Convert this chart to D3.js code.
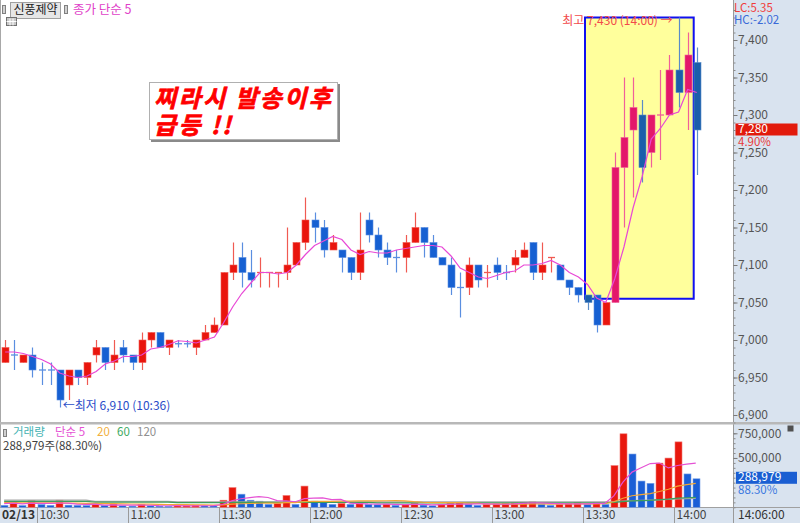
<!DOCTYPE html>
<html><head><meta charset="utf-8">
<script src="https://cdn.jsdelivr.net/npm/d3@7"></script>
<style>
body{margin:0;background:#fff;}
svg{display:block;font-family:"Noto Sans CJK KR","Noto Sans",sans-serif;}
</style></head><body>
<svg id="c" width="800" height="523"></svg>
<script>
// ---------- DATA (3-minute candles, 02/13) ----------
const times=["10:18","10:21","10:24","10:27","10:30","10:33","10:36","10:39","10:42","10:45",
"10:48","10:51","10:54","10:57","11:00","11:03","11:06","11:09","11:12","11:15",
"11:18","11:21","11:24","11:27","11:30","11:33","11:36","11:39","11:42","11:45",
"11:48","11:51","11:54","11:57","12:00","12:03","12:06","12:09","12:12","12:15",
"12:18","12:21","12:24","12:27","12:30","12:33","12:36","12:39","12:42","12:45",
"12:48","12:51","12:54","12:57","13:00","13:03","13:06","13:09","13:12","13:15",
"13:18","13:21","13:24","13:27","13:30","13:33","13:36","13:39","13:42","13:45",
"13:48","13:51","13:54","13:57","14:00","14:03","14:06"];
const opens=[6970,6980,6970,6980,6960,6960,6960,6940,6960,6950,
6980,6990,6970,6990,6980,6970,7000,7010,6990,6995,
6995,6990,7000,7010,7020,7090,7110,7090,7090,7090,
7090,7090,7100,7130,7160,7150,7120,7120,7110,7090,
7160,7140,7120,7110,7110,7130,7150,7130,7110,7100,
7070,7070,7100,7090,7100,7090,7100,7110,7130,7090,
7110,7100,7080,7070,7060,7060,7020,7050,7230,7280,
7300,7250,7300,7300,7360,7330,7370];
const highs=[7000,7000,6980,6990,6970,6970,6960,6960,6960,6970,
7000,6990,7000,7000,6980,7010,7010,7010,7000,7000,
7000,7000,7020,7030,7090,7130,7130,7120,7110,7090,
7090,7150,7130,7190,7170,7160,7140,7120,7110,7170,
7170,7150,7130,7120,7140,7170,7150,7140,7110,7110,
7090,7110,7100,7100,7110,7100,7120,7130,7130,7130,
7110,7100,7080,7070,7060,7060,7050,7250,7350,7350,
7320,7300,7360,7380,7430,7410,7390];
const lows=[6970,6960,6970,6950,6940,6940,6910,6920,6940,6940,
6970,6960,6960,6970,6960,6960,6990,6990,6980,6990,
6990,6980,7000,7010,7020,7080,7070,7070,7070,7070,
7070,7080,7100,7120,7130,7110,7120,7090,7080,7080,
7130,7110,7100,7090,7090,7130,7110,7110,7100,7060,
7030,7060,7070,7070,7080,7080,7090,7110,7080,7080,
7090,7080,7060,7050,7040,7010,7020,7050,7150,7190,
7210,7230,7240,7300,7310,7280,7220];
const closes=[6990,6980,6980,6960,6960,6960,6920,6960,6950,6970,
6990,6970,6980,6980,6970,7000,7010,6990,7000,6995,
6995,7000,7010,7020,7090,7100,7090,7080,7090,7090,
7090,7100,7130,7160,7150,7120,7130,7110,7090,7120,
7140,7120,7110,7110,7130,7150,7130,7110,7100,7070,
7070,7100,7080,7090,7090,7090,7110,7120,7090,7100,
7110,7080,7070,7060,7050,7020,7050,7230,7270,7310,
7230,7300,7300,7360,7330,7380,7280];
const volumes=[20000,60000,18000,70000,28000,20000,72000,22000,20000,18000,
30000,20000,32000,15000,12000,30000,15000,12000,10000,15000,
17000,22000,15000,14000,72000,200000,133000,72000,62000,30000,
40000,120000,30000,215000,62000,50000,30000,40000,30000,40000,
30000,25000,32000,20000,30000,40000,22000,15000,30000,40000,
50000,30000,20000,30000,35000,40000,45000,50000,55000,30000,
20000,30000,40000,50000,30000,45000,30000,423000,745000,540000,
266000,243000,448000,499000,663000,338000,288979];
// estimated closes / volumes just before the visible window (for moving averages)
const priorCloses=[6980,6990,6980,6980];
const priorVolumes=[60000,45000,55000,40000,50000,65000,45000,40000,55000,50000,
45000,60000,40000,50000,45000,40000,50000,35000,45000];
// volume MA60 / MA120
const volMa60=[60000,60000,60000,60000,60000,60000,60000,60000,60000,60000,
52000,52000,52000,52000,52000,52000,52000,52000,52000,47000,
47000,47000,47000,47000,47000,50000,50000,50000,50000,50000,
50000,50000,50000,50000,50000,50000,50000,50000,50000,50000,
50000,45000,45000,45000,45000,45000,45000,45000,45000,45000,
45000,45000,45000,45000,45000,45000,45000,45000,45000,45000,
45000,45000,45000,45000,45000,45000,45000,50000,58000,65000,
68000,71000,77000,83000,92000,97000,101000];
const volMa120=[72000,72000,72000,72000,72000,72000,72000,72000,72000,72000,
60000,60000,60000,60000,60000,60000,60000,60000,60000,55000,
55000,55000,55000,55000,55000,55000,55000,55000,55000,55000,
55000,55000,55000,55000,55000,55000,55000,55000,55000,55000,
55000,55000,55000,55000,55000,55000,55000,55000,55000,55000,
55000,55000,55000,55000,55000,55000,55000,55000,55000,55000,
55000,55000,55000,55000,55000,55000,55000,58000,64000,68000,
70000,72000,76000,80000,85000,88000,90000];
const priceTicks=[6900,6950,7000,7050,7100,7150,7200,7250,7300,7350,7400];
const volTicks=[500000,750000];
const timeTicks=["10:30","11:00","11:30","12:00","12:30","13:00","13:30","14:00"];
const highlight={from:"13:30",to:"14:06",top:7430,bottom:7055};
const peak={label:"최고 7,430 (14:00) →",index:74};
const trough={label:"←최저 6,910 (10:36)",index:6};
const memo=["찌라시 발송이후","급등 !!"];
const lastPrice=7280, lastPct="4.90%", lastVol=288979, lastVolPct="88.30%";

// ---------- SETUP ----------
const svg=d3.select("#c");
const FONT='"Noto Sans CJK KR","Noto Sans",sans-serif';
const toMin=s=>(+s.slice(0,2))*60+(+s.slice(3));
const x=d3.scaleLinear().domain([toMin("10:30"),toMin("14:00")]).range([37,674]);
const slot=x(3)-x(0);
const cx=i=>x(toMin(times[i]))+slot/2;
const y=d3.scaleLinear().domain([6900,7400]).range([415,40]);
const vy=d3.scaleLinear().domain([0,750000]).range([507.3,433.3]);
const AXBG="#d9e3ef";

// backgrounds
svg.append("rect").attr("x",0).attr("y",0).attr("width",800).attr("height",523).attr("fill","#fff");
svg.append("rect").attr("x",733).attr("y",0).attr("width",67).attr("height",523).attr("fill",AXBG);
svg.append("rect").attr("x",0).attr("y",507).attr("width",800).attr("height",16).attr("fill",AXBG);
svg.append("line").attr("x1",0.5).attr("x2",0.5).attr("y1",0).attr("y2",507).attr("stroke","#a8a8a8");
svg.append("line").attr("x1",733.5).attr("x2",733.5).attr("y1",0).attr("y2",523).attr("stroke","#9a9a9a");
svg.append("rect").attr("x",0).attr("y",422).attr("width",800).attr("height",2.5).attr("fill","#b8b8b8");
svg.append("line").attr("x1",0).attr("x2",800).attr("y1",507.5).attr("y2",507.5).attr("stroke","#a0a0a0");

// ---------- HIGHLIGHT BOX ----------
const bx0=x(toMin(highlight.from))+2, bx1=x(toMin(highlight.to))+1.5;
const by0=y(highlight.top), by1=y(highlight.bottom);
svg.append("rect").attr("x",bx0).attr("y",by0).attr("width",bx1-bx0).attr("height",by1-by0)
  .attr("fill","#ffff9c");
svg.append("rect").attr("x",bx0).attr("y",by0).attr("width",bx1-bx0).attr("height",by1-by0)
  .attr("fill","none").attr("stroke","#1010f0").attr("stroke-width",2);

// ---------- CANDLES ----------
const dirs=[];
closes.forEach((c,i)=>{
  const o=opens[i];
  const pc=i===0?priorCloses[priorCloses.length-1]:closes[i-1];
  let d;
  if(c>o) d=1; else if(c<o) d=-1;
  else if(c>pc) d=1; else if(c<pc) d=-1; else d=i===0?1:dirs[i-1];
  dirs.push(d);
});
const inBox=i=>{const mx=cx(i), my=y((opens[i]+closes[i])/2);return mx>=bx0&&mx<=bx1+4&&my>=by0&&my<=by1;};
const col=i=>{
  if(inBox(i)) return dirs[i]>0?{b:"#e3186a",w:"#f0609a"}:{b:"#1b5eaa",w:"#5a8cc8"};
  return dirs[i]>0?{b:"#e9150d",w:"#f05a52"}:{b:"#1660d2",w:"#5a8ee0"};
};
const BW=7;
const cg=svg.append("g");
times.forEach((t,i)=>{
  const c=col(i), xc=Math.round(cx(i))+0.5;
  cg.append("line").attr("x1",xc).attr("x2",xc).attr("y1",y(highs[i])).attr("y2",y(lows[i]))
    .attr("stroke",c.w).attr("stroke-width",1.2);
  const top=y(Math.max(opens[i],closes[i])), bot=y(Math.min(opens[i],closes[i]));
  if(bot-top<1.2){
    cg.append("line").attr("x1",xc-BW/2).attr("x2",xc+BW/2).attr("y1",top).attr("y2",top)
      .attr("stroke",c.w).attr("stroke-width",1.3);
  } else {
    cg.append("rect").attr("x",xc-BW/2).attr("y",top).attr("width",BW).attr("height",bot-top)
      .attr("fill",c.b).attr("stroke",c.w).attr("stroke-width",0.6);
  }
});

// price MA5
const cExt=priorCloses.concat(closes);
const ma5=closes.map((c,i)=>d3.mean(cExt.slice(i,i+5)));
svg.append("path").datum(ma5).attr("fill","none").attr("stroke","#e848d6").attr("stroke-width",1.2)
  .attr("d",d3.line().x((d,i)=>cx(i)).y(d=>y(d)));

// ---------- ANNOTATIONS ----------
svg.append("text").attr("x",cx(peak.index)-6).attr("y",y(highs[peak.index])+4).attr("text-anchor","end")
  .attr("dominant-baseline","middle").attr("font-size",12).attr("fill","#f24a4a").text(peak.label);
svg.append("text").attr("x",cx(trough.index)+3).attr("y",y(lows[trough.index])-1).attr("dominant-baseline","middle")
  .attr("font-size",12).attr("fill","#2a4cc8").text(trough.label);
// memo box
svg.append("rect").attr("x",151).attr("y",84).attr("width",189).attr("height",58).attr("fill","#8a8a8a");
svg.append("rect").attr("x",149.5).attr("y",82.5).attr("width",188).attr("height",57).attr("fill","#fff").attr("stroke","#b0b0b0");
memo.forEach((m,k)=>{
  svg.append("text").attr("x",154).attr("y",107+k*27).attr("font-size",24).attr("font-weight","bold")
    .attr("font-style","italic").attr("letter-spacing",2.4).attr("fill","#ff0000")
    .attr("stroke","#ff0000").attr("stroke-width",0.7).text(m);
});

// ---------- PRICE AXIS ----------
const minor=svg.append("g").attr("transform","translate(733.5,0)")
  .call(d3.axisRight(y).tickValues(d3.range(6890,7450,10)).tickSize(2).tickFormat(""));
minor.select(".domain").remove();
minor.selectAll("line").attr("stroke","#8a8a8a");
const pax=svg.append("g").attr("transform","translate(733.5,0)")
  .call(d3.axisRight(y).tickValues(priceTicks).tickSize(4).tickFormat(d3.format(",")));
pax.select(".domain").remove();
pax.selectAll("line").attr("stroke","#7a7a7a");
pax.selectAll("text").attr("x",4.5).attr("font-size",12).attr("font-family",FONT).attr("fill","#555");
// top-right info
svg.append("text").attr("x",734).attr("y",9).attr("dominant-baseline","middle").attr("font-size",11.5).attr("fill","#f03c3c").text("LC:5.35");
svg.append("text").attr("x",734).attr("y",21).attr("dominant-baseline","middle").attr("font-size",11.5).attr("fill","#3a6ad8").text("HC:-2.02");
// last price marker
svg.append("rect").attr("x",735.5).attr("y",y(lastPrice)-6.5).attr("width",62).attr("height",12).attr("fill","#e21a0c");
svg.append("text").attr("x",738).attr("y",y(lastPrice)-0.5).attr("dominant-baseline","middle").attr("font-size",12).attr("fill","#fff").text(d3.format(",")(lastPrice));
svg.append("text").attr("x",738).attr("y",y(lastPrice)+12.5).attr("dominant-baseline","middle").attr("font-size",11.5).attr("fill","#e83a3a").text(lastPct);

// ---------- HEADER ----------
svg.append("rect").attr("x",2.5).attr("y",5.5).attr("width",3).attr("height",8).attr("fill","#d0d0d0").attr("stroke","#808080");
svg.append("rect").attr("x",10.5).attr("y",2.5).attr("width",50).attr("height",16).attr("fill","#e6e6e6").attr("stroke","#a0a0a0");
svg.append("text").attr("x",35.5).attr("y",11).attr("text-anchor","middle").attr("dominant-baseline","middle").attr("font-size",12).attr("fill","#222").text("신풍제약");
svg.append("rect").attr("x",64.5).attr("y",5.5).attr("width",3).attr("height",8).attr("fill","#d0d0d0").attr("stroke","#808080");
svg.append("text").attr("x",73).attr("y",11).attr("dominant-baseline","middle").attr("font-size",12.5).attr("fill","#e040c8").text("종가 단순 5");
const gi=svg.append("g").attr("transform","translate(6.5,17.5)");
gi.append("rect").attr("width",10).attr("height",8).attr("fill","#c8c8c8").attr("stroke","#707070");
gi.append("line").attr("x1",0).attr("x2",10).attr("y1",4).attr("y2",4).attr("stroke","#fff");
gi.append("line").attr("x1",3.5).attr("x2",3.5).attr("y1",1).attr("y2",8).attr("stroke","#fff");
gi.append("line").attr("x1",6.5).attr("x2",6.5).attr("y1",1).attr("y2",8).attr("stroke","#fff");

// ---------- VOLUME ----------
const vdirs=[];
volumes.forEach((v,i)=>{
  const pv=i===0?priorVolumes[priorVolumes.length-1]:volumes[i-1];
  vdirs.push(v>pv?1:v<pv?-1:(i?vdirs[i-1]:1));
});
const vg=svg.append("g");
volumes.forEach((v,i)=>{
  const xc=Math.round(cx(i))+0.5;
  vg.append("rect").attr("x",xc-BW/2-1).attr("y",vy(v)).attr("width",BW).attr("height",vy(0)-vy(v))
    .attr("fill",vdirs[i]>0?"#e8180e":"#1a5ed6").attr("stroke",vdirs[i]>0?"#f27a74":"#7aa0e6").attr("stroke-width",0.6);
});
const vExt=priorVolumes.concat(volumes);
const vma=n=>volumes.map((v,i)=>d3.mean(vExt.slice(i+19-(n-1),i+20)));
const vline=d3.line().x((d,i)=>cx(i)-1).y(d=>vy(d));
[[volMa120,"#a6a6a6"],[volMa60,"#3e9e5c"],[vma(20),"#f2a634"],[vma(5),"#e552d4"]].forEach(([arr,c])=>{
  svg.append("path").datum(arr).attr("fill","none").attr("stroke",c).attr("stroke-width",1.2).attr("d",vline);
});
// volume header
svg.append("rect").attr("x",3.5).attr("y",429.5).attr("width",3).attr("height",7).attr("fill","#d0d0d0").attr("stroke","#808080");
const vh=[["거래량",13,"#45b3b3"],["단순 5",55,"#e552d4"],["20",97,"#f2b040"],["60",117,"#3eaa62"],["120",137,"#909090"]];
vh.forEach(([t,xx,c])=>svg.append("text").attr("x",xx).attr("y",433).attr("dominant-baseline","middle").attr("font-size",11.5).attr("fill",c).text(t));
svg.append("text").attr("x",3).attr("y",446.5).attr("dominant-baseline","middle").attr("font-size",11.5).attr("fill","#404040")
  .text(d3.format(",")(lastVol)+"주("+lastVolPct+")");
// volume axis
const vminor=svg.append("g").attr("transform","translate(733.5,0)")
  .call(d3.axisRight(vy).tickValues(d3.range(0,800000,50000)).tickSize(2).tickFormat(""));
vminor.select(".domain").remove(); vminor.selectAll("line").attr("stroke","#8a8a8a");
const vax=svg.append("g").attr("transform","translate(733.5,0)")
  .call(d3.axisRight(vy).tickValues(volTicks).tickSize(4).tickFormat(d3.format(",")));
vax.select(".domain").remove();
vax.selectAll("line").attr("stroke","#7a7a7a");
vax.selectAll("text").attr("x",4.5).attr("font-size",12).attr("font-family",FONT).attr("fill","#555");
svg.append("rect").attr("x",736).attr("y",vy(lastVol)-7).attr("width",61).attr("height",12).attr("fill","#1a5ed2");
svg.append("text").attr("x",738).attr("y",vy(lastVol)-1).attr("dominant-baseline","middle").attr("font-size",12).attr("fill","#fff").text(d3.format(",")(lastVol));
svg.append("text").attr("x",738).attr("y",vy(lastVol)+12.5).attr("dominant-baseline","middle").attr("font-size",11.5).attr("fill","#3a78e0").text(lastVolPct);
svg.append("rect").attr("x",787.5).attr("y",425.5).attr("width",6).attr("height",6).attr("fill","#505050");

// ---------- TIME AXIS ----------
const tax=svg.append("g").attr("transform","translate(0,507)")
  .call(d3.axisBottom(x).tickValues(timeTicks.map(toMin)).tickSize(16).tickFormat((d,i)=>timeTicks[i]));
tax.select(".domain").remove();
tax.selectAll("line").attr("stroke","#9a9a9a");
tax.selectAll("text").attr("text-anchor","start").attr("x",2).attr("y",8.5).attr("dy",null)
  .attr("dominant-baseline","middle").attr("font-size",12).attr("font-family",FONT).attr("fill","#444");
svg.append("text").attr("x",2).attr("y",515.5).attr("dominant-baseline","middle").attr("font-size",12).attr("font-weight","bold").attr("fill","#333").text("02/13");
svg.append("text").attr("x",738).attr("y",515.5).attr("dominant-baseline","middle").attr("font-size",12).attr("fill","#333").text("14:06:00");
</script>
</body></html>
